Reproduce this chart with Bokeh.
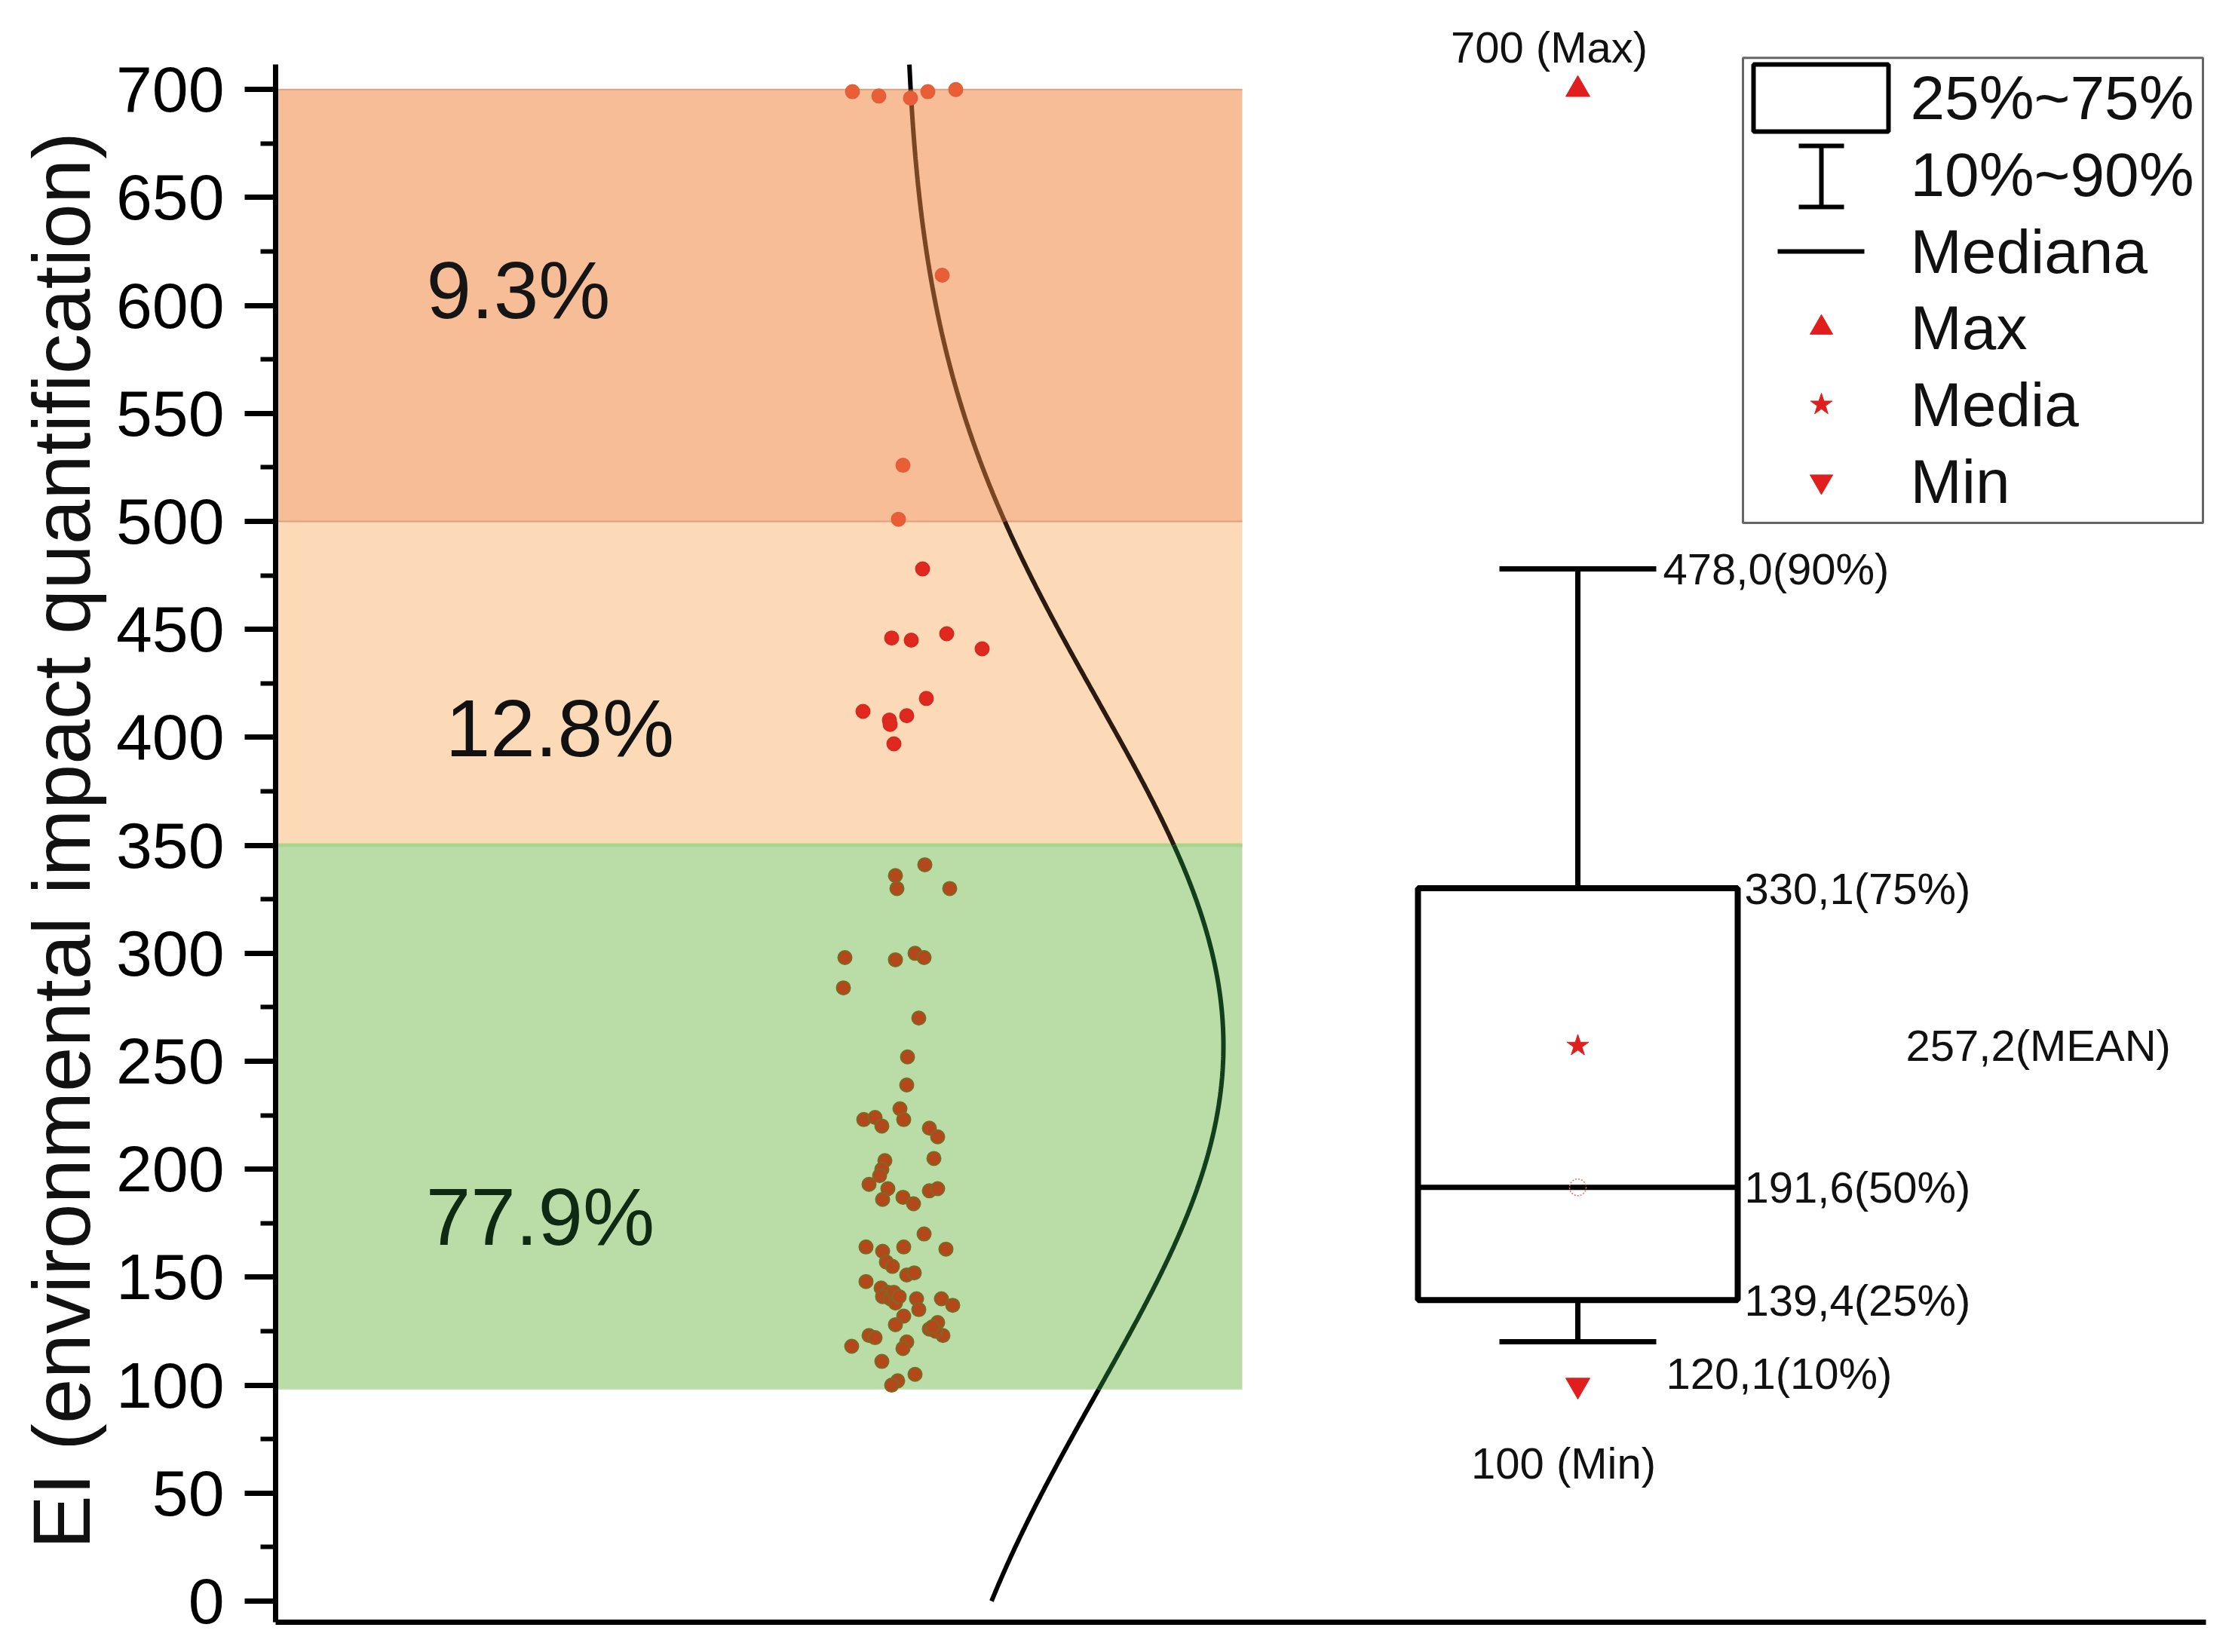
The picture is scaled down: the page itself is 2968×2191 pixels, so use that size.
import numpy as np
from bokeh.plotting import figure
from bokeh.models import FixedTicker, LinearAxis, Range1d, ColumnDataSource, Title
from bokeh.core.properties import value
from bokeh.embed import file_html
from bokeh.resources import INLINE

FONT = "Liberation Sans"

# ---------------- data ----------------
# EI values of the individual samples and their horizontal jitter position
ei_values = [699, 697, 696, 699, 700, 614, 526, 501,
             478, 446, 445, 448, 441, 418, 412, 410, 408, 406, 397,
             341, 336, 330, 330, 298, 297, 300, 298, 284, 270,
             252, 239, 223, 224, 220, 228, 223, 219, 215, 205, 204, 200, 197, 193, 191,
             186, 187, 184, 190, 191, 170,
             164, 164, 163, 162, 157, 155, 151, 152, 148, 145, 143, 141, 140, 138, 140,
             135, 140, 137, 132, 128, 126, 129, 123, 123, 122, 118, 120, 117, 111, 105,
             102, 100, 143, 141, 125, 127]
jitter_x = [765, 800, 842, 865, 902, 884, 832, 826,
            858, 817, 843, 890, 937, 863, 779, 837, 814, 815, 820,
            861, 822, 824, 894, 755, 822, 848, 860, 753, 853,
            838, 837, 780, 795, 804, 828, 833, 867, 878, 873, 808, 804, 801, 787, 812,
            805, 832, 846, 867, 878, 860,
            783, 833, 889, 805, 810, 818, 837, 847, 783, 803, 812, 805, 815, 822, 850,
            853, 883, 898, 833, 822, 867, 878, 885, 787, 795, 764, 837, 832, 804, 848,
            825, 817, 820, 827, 875, 871]

# classification bands
band_lo = [500, 350, 98]
band_hi = [700, 500, 350]
band_fill = ["#F7BD96", "#FCD9B7", "#BADDA8"]
band_edge = ["#DDA27A", "#DDA27A", "#A6D68C"]
band_pct = ["9.3%", "12.8%", "77.9%"]
band_pct_color = ["#151515", "#111111", "#0F2A12"]
band_point_fill = ["#EB5D36", "#E0281F", "#B4481B"]
band_point_line = ["#E0603A", "#D42A20", "#7A6A22"]
band_curve_color = ["#7A4522", "#2B1A0F", "#123E1C"]

# box-plot statistics
stat_min, stat_q10, stat_q25, stat_q50 = 100, 120.1, 139.4, 191.6
stat_mean, stat_q75, stat_q90, stat_max = 257.2, 330.1, 478.0, 700
stat_texts = ["700 (Max)", "478,0(90%)", "330,1(75%)", "257,2(MEAN)",
              "191,6(50%)", "139,4(25%)", "120,1(10%)", "100 (Min)"]
fit_sd = 160.0  # spread of the fitted distribution curve

legend_labels = ["25%~75%", "10%~90%", "Mediana", "Max", "Media", "Min"]
y_title = "EI (environmental impact quantification)"

# ---------------- layout constants ----------------
Y0, Y1 = -9.78, 735.0
AXIS_TOP = 711.6
BAND_RIGHT = 1282
BOX_C, BOX_HW, CAP_HW = 1727, 212, 104
CURVE_BASE, CURVE_AMP = 833, 424
RED = "#E01E1E"

p = figure(width=2952, height=2175, x_range=Range1d(0, 2560), y_range=Range1d(Y0, Y1),
           output_backend="svg", toolbar_location=None,
           min_border_left=365, min_border_right=27, min_border_top=18, min_border_bottom=24,
           x_axis_type=None, y_axis_type=None)
p.outline_line_color = None
p.background_fill_color = "white"

# y axis
yaxis = LinearAxis(ticker=FixedTicker(ticks=list(range(0, 701, 50)),
                                      minor_ticks=list(range(0, 701, 25))),
                   bounds=(Y0, AXIS_TOP))
yaxis.axis_line_width = 7
yaxis.axis_line_color = "black"
yaxis.major_tick_line_width = 7
yaxis.major_tick_out = 41
yaxis.major_tick_in = 0
yaxis.minor_tick_line_width = 6
yaxis.minor_tick_out = 20
yaxis.minor_tick_in = 0
yaxis.major_label_standoff = 27
yaxis.major_label_text_font = FONT
yaxis.major_label_text_font_size = "86px"
yaxis.major_label_text_color = "black"
p.add_layout(yaxis, "left")

# y axis title (placed from the bottom of the axis, like the original)
p.add_layout(Title(text=y_title, align="left", offset=97, standoff=20,
                   vertical_align="bottom", text_font=FONT, text_font_size="107px",
                   text_font_style="normal", text_color="#111111"), "left")

xaxis = LinearAxis(ticker=FixedTicker(ticks=[]))
xaxis.axis_line_width = 7
xaxis.axis_line_color = "black"
xaxis.major_tick_out = 0
xaxis.major_tick_in = 0
xaxis.minor_tick_out = 0
xaxis.minor_tick_in = 0
xaxis.major_label_text_font_size = "0px"
xaxis.major_label_standoff = 0
p.add_layout(xaxis, "below")

# bands
p.quad(left=[0] * 3, right=[BAND_RIGHT] * 3, bottom=band_lo, top=band_hi,
       fill_color=band_fill, line_color=None)
p.segment(x0=[0] * 3, x1=[BAND_RIGHT] * 3, y0=band_hi, y1=band_hi,
          line_color=band_edge, line_width=[2, 2, 5])

# fitted distribution curve, coloured by band
yy = np.linspace(0, AXIS_TOP, 800)
edges = [0, band_lo[2], band_lo[1], band_lo[0], band_hi[0], AXIS_TOP]
seg_colors = ["black", band_curve_color[2], band_curve_color[1], band_curve_color[0], "black"]
for lo, hi, col in zip(edges[:-1], edges[1:], seg_colors):
    m = (yy >= lo) & (yy <= hi)
    ys = np.concatenate([[lo], yy[m], [hi]])
    xs = CURVE_BASE + CURVE_AMP * np.exp(-0.5 * ((ys - stat_mean) / fit_sd) ** 2)
    p.line(xs, ys, line_color=col, line_width=6)

# percentages
p.text(x=[322, 377, 351], y=[607, 404, 178], text=band_pct,
       text_font=value(FONT), text_font_size=value("107px"),
       text_color=band_pct_color, text_align="center", text_baseline="middle")

# scatter of samples
def band_index(v):
    if v >= band_lo[0]:
        return 0
    if v >= band_lo[1]:
        return 1
    return 2

idx = [band_index(v) for v in ei_values]
src = ColumnDataSource(dict(x=jitter_x, y=ei_values,
                            fc=[band_point_fill[i] for i in idx],
                            lc=[band_point_line[i] for i in idx]))
p.scatter("x", "y", source=src, size=18, fill_color="fc", line_color="lc", line_width=2)

# box plot
p.quad(left=[BOX_C - BOX_HW], right=[BOX_C + BOX_HW], bottom=[stat_q25], top=[stat_q75],
       fill_color="white", line_color="black", line_width=8)
p.segment(x0=[BOX_C, BOX_C], x1=[BOX_C, BOX_C], y0=[stat_q75, stat_q10], y1=[stat_q90, stat_q25],
          line_color="black", line_width=7)
p.segment(x0=[BOX_C - CAP_HW, BOX_C - CAP_HW, BOX_C - BOX_HW],
          x1=[BOX_C + CAP_HW, BOX_C + CAP_HW, BOX_C + BOX_HW],
          y0=[stat_q90, stat_q10, stat_q50], y1=[stat_q90, stat_q10, stat_q50],
          line_color="black", line_width=7)
p.scatter([BOX_C], [stat_max], marker="triangle", size=32, color=RED)
p.scatter([BOX_C], [stat_min], marker="inverted_triangle", size=32, color=RED)
p.scatter([BOX_C], [stat_mean], marker="star", size=30, color=RED)
p.scatter([BOX_C], [stat_q50], marker="circle", size=22, fill_color=None,
          line_color="#E07070", line_width=1.5, line_dash="2 2")

lab_x = [BOX_C - 38, BOX_C + CAP_HW + 9, BOX_C + BOX_HW + 9, BOX_C + 435,
         BOX_C + BOX_HW + 9, BOX_C + BOX_HW + 9, BOX_C + CAP_HW + 13, BOX_C - 19]
lab_y = [stat_max + 19.6, stat_q90, stat_q75, stat_mean,
         stat_q50, stat_q25, stat_q10 - 14.7, stat_min - 36]
lab_align = ["center", "left", "left", "left", "left", "left", "left", "center"]
p.text(x=lab_x, y=lab_y, text=stat_texts, text_font=value(FONT),
       text_font_size=value("58px"), text_color="#111111",
       text_align=lab_align, text_baseline="middle")

# legend (drawn by hand)
LG_L, LG_R, LG_T, LG_B = 1946, 2556, 714.7, 499.3
SYM_X, TXT_X = 2050, 2168
row_y = [696.2, 660.6, 625.0, 589.7, 554.1, 518.5]
p.quad(left=[LG_L], right=[LG_R], top=[LG_T], bottom=[LG_B],
       fill_color="white", line_color="#666666", line_width=3)
p.quad(left=[1960], right=[2139], bottom=[680.5], top=[711.6],
       fill_color="white", line_color="black", line_width=6)
p.segment(x0=[SYM_X, SYM_X - 30, SYM_X - 30], x1=[SYM_X, SYM_X + 30, SYM_X + 30],
          y0=[645.6, 673.9, 645.6], y1=[673.9, 673.9, 645.6],
          line_color="black", line_width=6)
p.segment(x0=[1992], x1=[2107], y0=[row_y[2]], y1=[row_y[2]], line_color="black", line_width=6)
p.scatter([SYM_X], [row_y[3]], marker="triangle", size=30, color=RED)
p.scatter([SYM_X], [row_y[4]], marker="star", size=30, color=RED)
p.scatter([SYM_X], [row_y[5]], marker="inverted_triangle", size=30, color=RED)
p.text(x=[TXT_X] * 6, y=row_y, text=legend_labels, text_font=value(FONT),
       text_font_size=value("82px"), text_color="#111111",
       text_align="left", text_baseline="middle")

open("out.html", "w").write(file_html(p, INLINE))
